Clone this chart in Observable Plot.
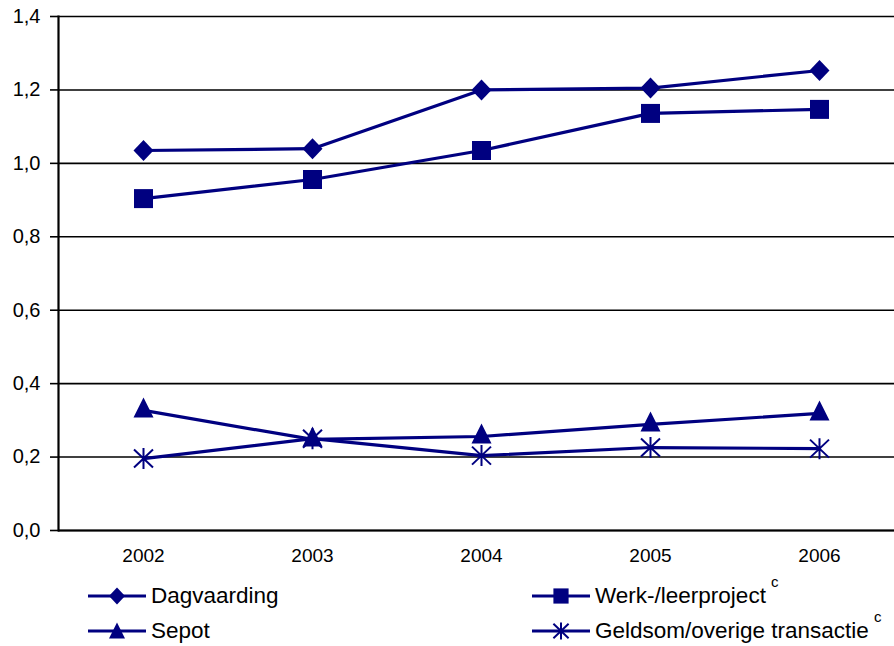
<!DOCTYPE html>
<html><head><meta charset="utf-8">
<script src="https://cdn.jsdelivr.net/npm/d3@7"></script>
<script src="https://cdn.jsdelivr.net/npm/@observablehq/plot@0.6"></script>
<style>
html,body{margin:0;padding:0;background:#fff;font-family:"Liberation Sans",Arial,sans-serif;}
#wrap{position:relative;width:894px;height:646px;overflow:hidden}
#chart svg{overflow:hidden}
.leg{position:absolute;display:flex;align-items:center;font-size:22.5px;color:#000;white-space:nowrap;height:30px}
.leg svg{display:block;margin-right:5px}
.sup{font-size:15px;position:relative;top:-15px;margin-left:5px}
</style></head><body><div id="wrap"><div id="chart"></div></div>
<script>
const years = ["2002", "2003", "2004", "2005", "2006"];
const seriesNames = ["Dagvaarding", "Werk-/leerproject", "Sepot", "Geldsom/overige transactie"];
const dagvaarding = [1.035, 1.040, 1.200, 1.205, 1.253];
const werkLeerproject = [0.904, 0.956, 1.035, 1.136, 1.147];
const sepot = [0.327, 0.248, 0.256, 0.289, 0.319];
const geldsom = [0.196, 0.250, 0.204, 0.226, 0.223];
const yTicks = [0, 0.2, 0.4, 0.6, 0.8, 1.0, 1.2, 1.4];
const seriesSuperscripts = ["", "c", "", "c"];

const NAVY = "#000080";
const allValues = [dagvaarding, werkLeerproject, sepot, geldsom];
const rows = [];
seriesNames.forEach((s, i) => years.forEach((y, j) => rows.push({series: s, year: y, value: allValues[i][j]})));

// marker shapes (Excel-like), k = scale factor
const mkDiamond = k => ({draw(c) { c.moveTo(0, -10.5 * k); c.lineTo(10 * k, 0); c.lineTo(0, 10.5 * k); c.lineTo(-10 * k, 0); c.closePath(); }});
const mkSquare = k => ({draw(c) { const h = 9.5 * k; c.moveTo(-h, -h); c.lineTo(h, -h); c.lineTo(h, h); c.lineTo(-h, h); c.closePath(); }});
const mkTriangle = k => ({draw(c) { c.moveTo(0, -13 * k); c.lineTo(10 * k, 7 * k); c.lineTo(-10 * k, 7 * k); c.closePath(); }});
const mkAsterisk = k => ({draw(c) { c.moveTo(0, -10.5 * k); c.lineTo(0, 10.5 * k); c.moveTo(-9.5 * k, -9 * k); c.lineTo(9.5 * k, 9 * k); c.moveTo(-9.5 * k, 9 * k); c.lineTo(9.5 * k, -9 * k); }});
const makers = [mkDiamond, mkSquare, mkTriangle, mkAsterisk];

const marks = [
  Plot.ruleY(yTicks, {stroke: "black", strokeWidth: 1.6}),
  Plot.ruleY([0], {stroke: "black", strokeWidth: 2.2}),
  Plot.frame({anchor: "left", stroke: "black", strokeWidth: 2.2}),
  Plot.axisY({ticks: yTicks, tickFormat: d => d.toFixed(1).replace(".", ","), tickSize: 8, tickPadding: 10, fontSize: 20, stroke: "black", strokeWidth: 1.6, color: "black", label: null}),
  Plot.axisX({tickSize: 0, tickPadding: 18, fontSize: 19, label: null, color: "black"}),
  Plot.line(rows, {x: "year", y: "value", z: "series", stroke: NAVY, strokeWidth: 3.2})
];
seriesNames.forEach((s, i) => {
  const data = rows.filter(r => r.series === s);
  const sym = makers[i](1);
  if (i === 3) {
    marks.push(Plot.dot(data, {x: "year", y: "value", symbol: sym, r: 10, stroke: NAVY, strokeWidth: 2, fill: "none"}));
  } else {
    marks.push(Plot.dot(data, {x: "year", y: "value", symbol: sym, r: 10, fill: NAVY, stroke: "none"}));
  }
});

const chart = Plot.plot({
  width: 894,
  height: 578,
  marginTop: 16,
  marginBottom: 48,
  marginLeft: 58,
  marginRight: -10,
  style: {fontFamily: "'Liberation Sans', Arial, sans-serif", background: "white", color: "black"},
  x: {type: "point", domain: years, padding: 0.5},
  y: {domain: [0, 1.4]},
  marks
});
document.getElementById("chart").appendChild(chart);

// legend
const wrap = document.getElementById("wrap");
const legPos = [[88, 581], [532, 581], [88, 616], [532, 616]];
seriesNames.forEach((s, i) => {
  const div = document.createElement("div");
  div.className = "leg";
  div.style.left = legPos[i][0] + "px";
  div.style.top = legPos[i][1] + "px";
  const sw = d3.create("svg").attr("width", 58).attr("height", 30);
  sw.append("line").attr("x1", 0).attr("x2", 58).attr("y1", 15).attr("y2", 15).attr("stroke", NAVY).attr("stroke-width", 3.2);
  const path = d3.path();
  makers[i](0.8).draw(path);
  const ty = i === 2 ? 17 : 15;
  const p = sw.append("path").attr("transform", `translate(29,${ty})`).attr("d", path.toString());
  if (i === 3) p.attr("fill", "none").attr("stroke", NAVY).attr("stroke-width", 2);
  else p.attr("fill", NAVY);
  div.appendChild(sw.node());
  const t = document.createElement("span");
  t.textContent = s;
  div.appendChild(t);
  if (seriesSuperscripts[i]) {
    const c = document.createElement("span");
    c.className = "sup";
    c.textContent = seriesSuperscripts[i];
    div.appendChild(c);
  }
  wrap.appendChild(div);
});
</script>
</body></html>
